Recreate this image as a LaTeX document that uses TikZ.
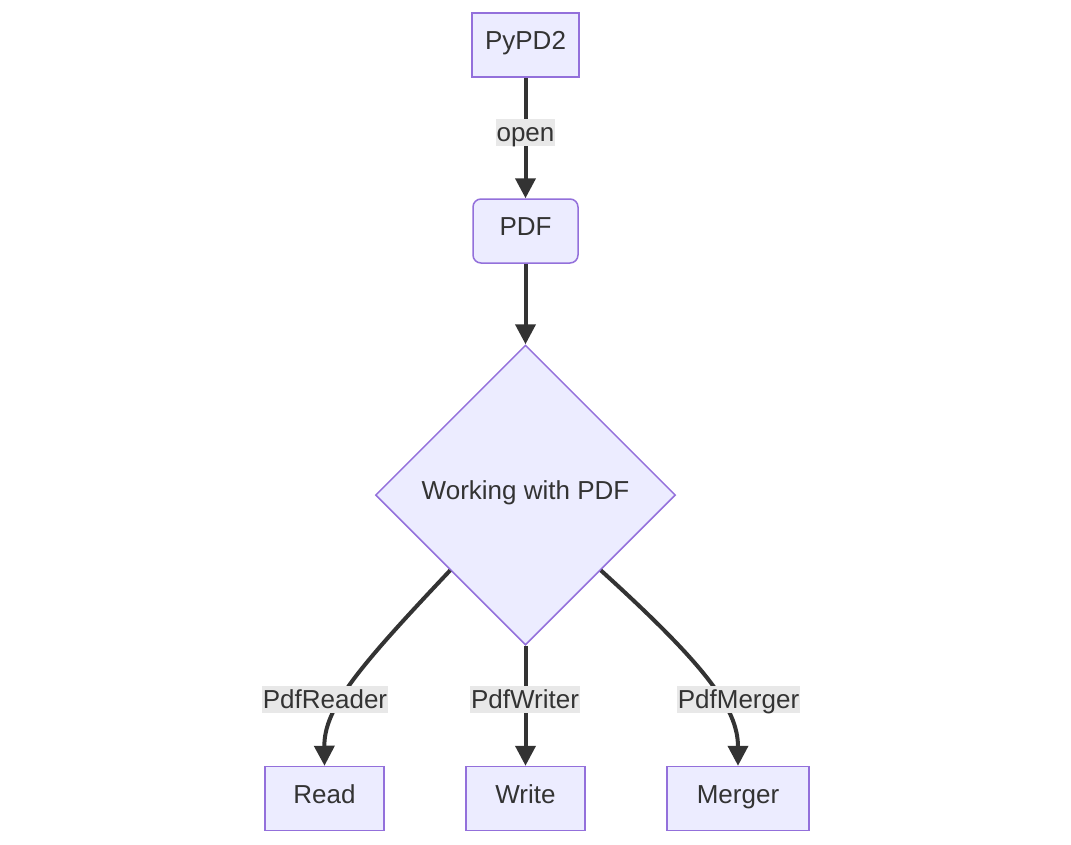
\documentclass[tikz,border=0pt]{standalone}
\usepackage{fontspec}
\setmainfont{Liberation Sans}
\usetikzlibrary{shapes.geometric,arrows.meta}
\definecolor{nodefill}{HTML}{ECECFF}
\definecolor{nodeline}{HTML}{9370DB}
\definecolor{ink}{HTML}{333333}
\definecolor{lblbg}{HTML}{E8E8E8}
\begin{document}
\begin{tikzpicture}[x=1pt,y=-1pt,
  txt/.style={text=ink, font=\fontsize{26}{31}\selectfont},
  box/.style={txt, draw=nodeline, fill=nodefill, line width=1.5pt, inner sep=0pt,
    minimum height=64pt, text height=19pt, text depth=10pt},
  decision/.style={txt, diamond, draw=nodeline, fill=nodefill, line width=1.5pt, inner sep=0pt,
    minimum width=300pt, minimum height=300pt, text height=19pt, text depth=10pt},
  lbl/.style={txt, fill=lblbg, inner sep=0pt, inner xsep=1pt, text height=22.7pt, text depth=4.3pt},
  edge/.style={draw=ink, line width=4pt, -{Triangle[length=20pt,width=20pt]}}
]
\useasboundingbox[fill=white] (0,0) rectangle (1071,844);

\node[box, minimum width=107pt] (py) at (525.5,45) {PyPD2};
\node[box, minimum width=105pt, rounded corners=8pt] (pdf) at (525.5,231) {PDF};
\node[decision] (work) at (525.5,495) {Working with PDF};
\node[box, minimum width=119pt] (read) at (324.5,798.5) {Read};
\node[box, minimum width=119pt] (write) at (525.5,798.5) {Write};
\node[box, minimum width=142pt] (merger) at (738,798.5) {Merger};

\draw[edge] (py.south) -- (pdf.north);
\draw[edge] (pdf.south) -- (work.north);
\draw[edge] (work.south west) .. controls (358,668) and (324,708) .. (read.north);
\draw[edge] (work.south) -- (write.north);
\draw[edge] (work.south east) .. controls (704,664) and (738,708) .. (merger.north);

\node[lbl] (lopen) at (525.5,132.5) {open};
\node[lbl] (lread) at (325,699.5) {PdfReader};
\node[lbl] (lwrite) at (525,699.5) {PdfWriter};
\node[lbl] (lmerge) at (738.5,699.5) {PdfMerger};
\end{tikzpicture}
\end{document}
